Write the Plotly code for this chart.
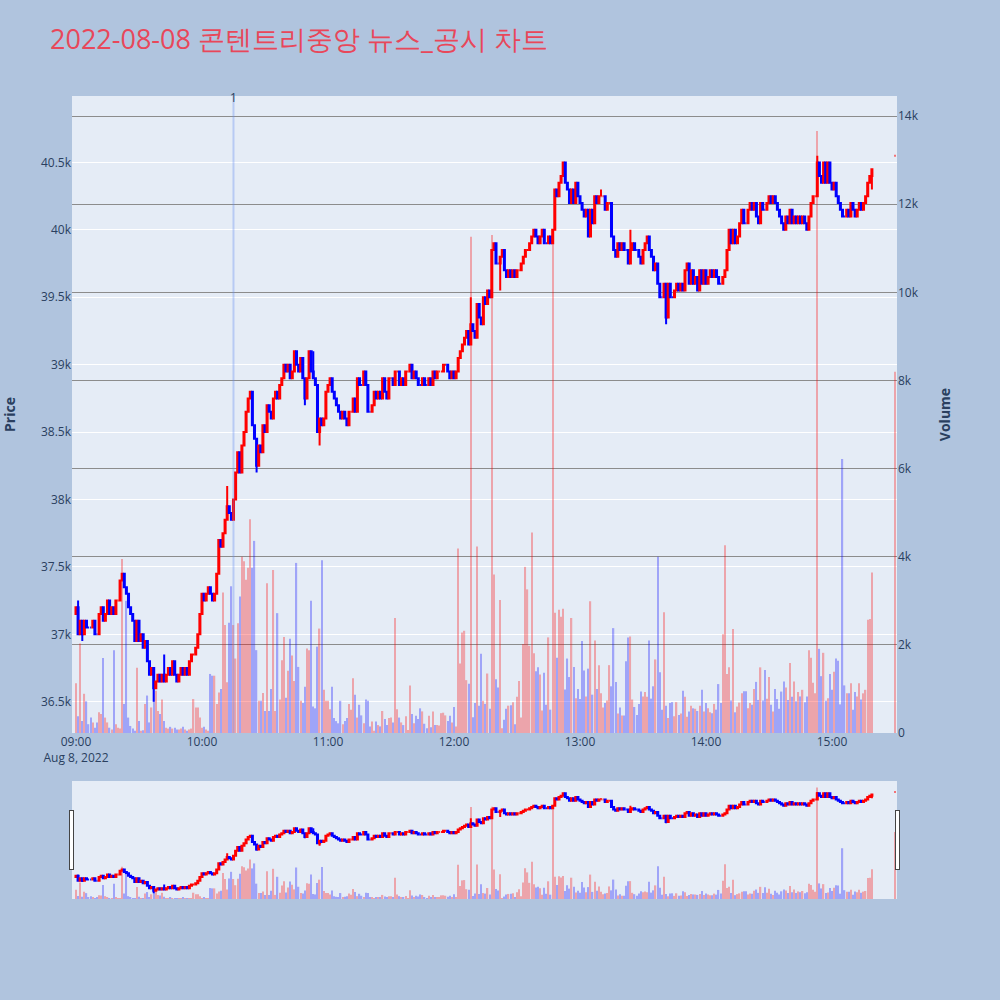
import pandas as pd
import plotly.graph_objects as go

title_text = "2022-08-08 콘텐트리중앙 뉴스_공시 차트"

# 1-minute bars 09:00 .. 15:19 (close prices, KRW)
first_open = 37150
close_prices = [
    37200, 37000, 37100, 37000, 37100, 37050, 37050, 37050, 37100, 37000,
    37000, 37150, 37200, 37100, 37150, 37250, 37150, 37200, 37150, 37250,
    37250, 37400, 37450, 37350, 37300, 37200, 37150, 37100, 36950, 37100,
    36950, 37000, 36900, 36950, 36800, 36700, 36750, 36600, 36650, 36700,
    36650, 36700, 36650, 36700, 36750, 36700, 36800, 36700, 36650, 36700,
    36750, 36700, 36750, 36700, 36800, 36850, 36850, 36900, 37000, 37150,
    37300, 37250, 37300, 37350, 37300, 37250, 37300, 37450, 37700, 37650,
    37750, 37850, 37950, 37900, 37850, 38000, 38200, 38350, 38200, 38400,
    38500, 38650, 38750, 38800, 38550, 38450, 38250, 38400, 38350, 38550,
    38500, 38700, 38650, 38600, 38750, 38800, 38750, 38850, 38900, 39000,
    38950, 39000, 38900, 38950, 39100, 39000, 38950, 39050, 38900, 38750,
    38900, 39100, 38950, 38900, 38850, 38500, 38600, 38550, 38600, 38800,
    38850, 38900, 38800, 38750, 38700, 38650, 38600, 38650, 38600, 38550,
    38650, 38650, 38750, 38650, 38900, 38850, 38850, 38950, 38850, 38650,
    38650, 38700, 38800, 38750, 38800, 38750, 38900, 38800, 38750, 38900,
    38900, 38850, 38950, 38950, 38850, 38900, 38850, 38950, 38950, 39000,
    38900, 38950, 38900, 38850, 38850, 38900, 38850, 38850, 38900, 38850,
    38950, 38900, 38950, 38950, 38950, 39000, 39000, 38950, 38900, 38950,
    38900, 38950, 39050, 39100, 39150, 39200, 39250, 39150, 39300, 39250,
    39200, 39450, 39350, 39300, 39500, 39450, 39550, 39500, 39850, 39900,
    39750, 39750, 39800, 39850, 39700, 39650, 39700, 39650, 39700, 39650,
    39700, 39700, 39750, 39800, 39850, 39850, 39900, 39950, 40000, 39950,
    39900, 39950, 40000, 39900, 39900, 39950, 39900, 40000, 40300, 40250,
    40350, 40400, 40500, 40350, 40300, 40200, 40300, 40200, 40350, 40250,
    40200, 40150, 40100, 40150, 39950, 40150, 40050, 40250, 40200, 40250,
    40250, 40250, 40150, 40200, 40200, 39950, 39850, 39800, 39900, 39850,
    39900, 39850, 39850, 39750, 39850, 39900, 39850, 39850, 39800, 39750,
    39850, 39900, 39950, 39850, 39800, 39700, 39750, 39600, 39500, 39500,
    39600, 39350, 39600, 39500, 39500, 39550, 39600, 39550, 39600, 39550,
    39700, 39750, 39600, 39700, 39600, 39650, 39550, 39700, 39600, 39700,
    39600, 39650, 39700, 39650, 39700, 39650, 39600, 39600, 39650, 39700,
    39850, 40000, 39900, 40000, 39900, 39950, 40050, 40150, 40050, 40050,
    40150, 40200, 40150, 40200, 40100, 40050, 40200, 40150, 40150, 40200,
    40250, 40200, 40250, 40200, 40150, 40100, 40050, 40000, 40100, 40050,
    40150, 40050, 40100, 40050, 40100, 40050, 40100, 40050, 40000, 40100,
    40200, 40250, 40250, 40500, 40400, 40350, 40500, 40350, 40500, 40350,
    40300, 40350, 40250, 40200, 40150, 40100, 40100, 40150, 40100, 40200,
    40150, 40100, 40150, 40200, 40150, 40200, 40250, 40350, 40400, 40450,
]

volumes = [
    1130, 380, 2030, 270, 890, 720, 200, 350, 240, 120,
    240, 470, 430, 1700, 350, 240, 120, 80, 1880, 200,
    120, 100, 3950, 660, 3000, 350, 160, 100, 50, 1480,
    270, 50, 60, 660, 850, 240, 580, 1270, 960, 500,
    430, 760, 270, 120, 100, 140, 100, 120, 80, 80,
    100, 140, 80, 50, 80, 100, 770, 580, 580, 350,
    120, 140, 80, 50, 1340, 1300, 1300, 660, 920, 1000,
    3190, 2450, 1150, 2500, 3330, 2450, 1690, 2490, 3100, 4000,
    3900, 3480, 3750, 4850, 3750, 4360, 1880, 730, 730, 910,
    500, 3400, 500, 1000, 3700, 500, 2720, 760, 1650, 2180,
    800, 1410, 2140, 1760, 1180, 3860, 1500, 730, 680, 1050,
    1920, 1880, 3000, 600, 560, 1960, 2370, 3920, 980, 730,
    730, 540, 1050, 340, 270, 220, 730, 200, 270, 340,
    660, 530, 1240, 870, 350, 640, 400, 220, 760, 730,
    150, 260, 50, 260, 180, 150, 500, 320, 180, 340,
    350, 240, 2610, 540, 350, 240, 180, 380, 70, 1080,
    430, 220, 390, 320, 560, 490, 210, 110, 390, 130,
    490, 180, 180, 170, 450, 460, 400, 270, 390, 240,
    590, 150, 4190, 1580, 2280, 2320, 1200, 1120, 11260, 360,
    680, 4230, 620, 1800, 730, 660, 1350, 550, 11300, 3600,
    1220, 1030, 3020, 110, 300, 550, 620, 630, 700, 200,
    820, 1180, 350, 2020, 3770, 3260, 1980, 4550, 1810, 1400,
    1490, 1330, 510, 1370, 640, 2170, 530, 11200, 2730, 1710,
    2800, 2640, 2820, 990, 1690, 1270, 2610, 1500, 790, 1000,
    770, 2090, 1420, 830, 1460, 2990, 870, 2100, 1000, 1540,
    900, 580, 680, 740, 1540, 1060, 2380, 1160, 440, 580,
    400, 400, 1630, 2170, 2190, 760, 590, 410, 660, 940,
    830, 930, 820, 2100, 780, 1060, 1670, 4000, 1380, 530,
    2740, 620, 340, 680, 700, 380, 700, 410, 440, 960,
    820, 370, 490, 620, 560, 550, 500, 620, 980, 490,
    680, 560, 470, 450, 660, 530, 1110, 680, 2240, 4260,
    1340, 1490, 740, 2360, 470, 600, 690, 900, 950, 950,
    560, 680, 640, 1000, 1160, 750, 1490, 740, 1430, 780,
    1270, 640, 490, 1000, 770, 550, 940, 1170, 1030, 750,
    1590, 820, 1170, 720, 930, 830, 980, 700, 830, 1880,
    1710, 1140, 900, 13660, 1910, 1290, 1820, 730, 790, 1340,
    980, 1390, 1690, 1640, 650, 6220, 1080, 900, 900, 1130,
    530, 930, 830, 1130, 760, 900, 980, 2570, 2590, 3640,
]

# wick extremes (minute index -> price)
wick_highs = {1: 37250, 42: 36850, 72: 38100, 113: 39100, 188: 39500,
              250: 40300, 264: 40000, 353: 40550}
wick_lows = {3: 36950, 37: 36500, 86: 38200, 109: 38700, 116: 38400,
             129: 38550, 202: 39550, 281: 39300, 379: 40300}

closing_auction_time = "2022-08-08 15:30"
closing_auction_price = 40550
closing_auction_volume = 8200

news_times = ["2022-08-08 10:15"]
news_labels = ["1"]

x_range = ["2022-08-08 08:58:06", "2022-08-08 15:30:57"]
price_range = [36268, 40993]
volume_range = [0, 14457]

assert len(close_prices) == 380 and len(volumes) == 380

times = list(pd.date_range("2022-08-08 09:00", periods=len(close_prices), freq="min"))
times.append(pd.Timestamp(closing_auction_time))
closes = close_prices + [closing_auction_price]
opens = [first_open] + close_prices[:-1] + [closing_auction_price]
highs, lows = [], []
for i, (o, c) in enumerate(zip(opens, closes)):
    highs.append(max(o, c, wick_highs.get(i, 0)))
    lows.append(min(o, c, wick_lows.get(i, 10**9)))
vols = volumes + [closing_auction_volume]

# direction (same rule as plotly candlestick)
colors = []
inc = True
prev_c = None
for o, c in zip(opens, closes):
    if c == o:
        if prev_c is not None and c != prev_c:
            inc = c > prev_c
    else:
        inc = c > o
    prev_c = c
    colors.append("red" if inc else "blue")

fig = go.Figure()
# volume first (drawn underneath), on the right-hand axis
fig.add_trace(go.Bar(
    x=times, y=vols, yaxis="y", width=38000,
    marker=dict(color=colors, line=dict(width=0)), opacity=0.3,
    name="Volume", showlegend=False))
fig.add_trace(go.Candlestick(
    x=times, open=opens, high=highs, low=lows, close=closes, yaxis="y2",
    increasing=dict(line=dict(color="red", width=2), fillcolor="red"),
    decreasing=dict(line=dict(color="blue", width=2), fillcolor="blue"),
    name="Price", showlegend=False))

for t, lab in zip(news_times, news_labels):
    fig.add_shape(type="line", x0=t, x1=t, xref="x", y0=0, y1=1, yref="paper",
                  line=dict(color="rgba(100,140,240,0.35)", width=2))
    fig.add_annotation(x=t, y=1, xref="x", yref="paper", text=lab, showarrow=False,
                       yanchor="middle", yshift=-1, xanchor="center",
                       font=dict(size=12, color="#2a3f5f"))

fig.update_layout(
    width=1000, height=1000,
    paper_bgcolor="lightsteelblue",
    title=dict(text=title_text, x=0.05, xanchor="left", y=0.96, yanchor="middle",
               font=dict(size=27, color="#e8475a")),
    margin=dict(l=72, r=103, t=96, b=102),
    showlegend=False,
    xaxis=dict(range=x_range, showgrid=False, automargin=False,
               rangeslider=dict(visible=True, range=x_range, thickness=0.147)),
    yaxis=dict(title=dict(text="<b>Volume</b>", standoff=22), range=volume_range,
               side="right", showgrid=True, gridcolor="rgb(140,140,140)",
               automargin=False, zeroline=False),
    yaxis2=dict(title=dict(text="<b>Price</b>", standoff=22), range=price_range,
                side="left", overlaying="y", showgrid=True, gridcolor="white",
                automargin=False),
)

fig.write_html("out.html", config={"displayModeBar": False},
               post_script="document.body.style.margin='0px';")
